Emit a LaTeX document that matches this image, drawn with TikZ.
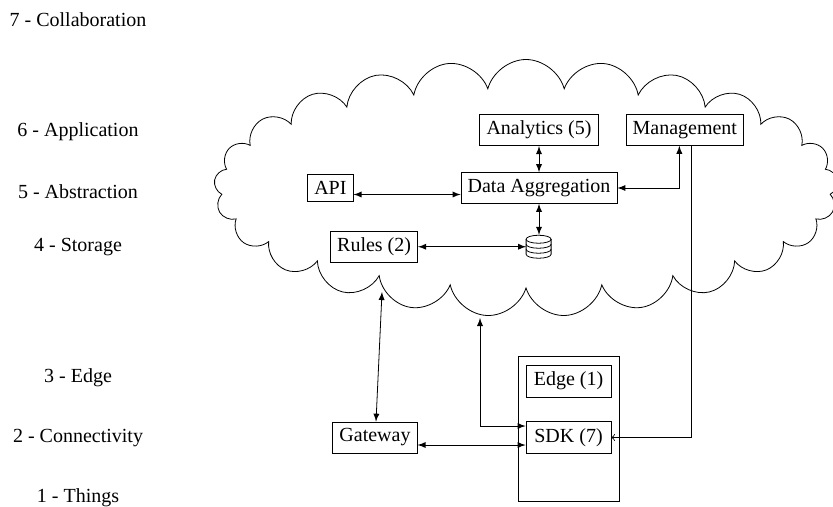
\documentclass[tikz,border=0pt]{standalone}
\usepackage{fontspec}
\setmainfont{Liberation Serif}
\usepackage{tikz}
\usetikzlibrary{positioning,shapes.symbols}

\tikzset{
  box/.style = {draw, rectangle},
  layer/.style = {inner sep = 0pt},
  link/.style = {latex-latex},
}

\begin{document}
\begin{tikzpicture}[x = 0.5pt, y = -0.5pt]
  \useasboundingbox (0,0) rectangle (833,507);
  \clip (0,0) rectangle (833,507);

  \node[cloud, draw, cloud puffs = 25, cloud puff arc = 150, aspect = 2.4, minimum width = 312pt, minimum height = 128.5pt] (net) at (526,188) {};

  % inside the cloud
  \node[box] (data) at (539,188) {Data Aggregation};
  \node[box, above=1.3em of data] (analytics) {Analytics (5)};
  \node[box, right=1.35em of analytics] (mgmt) {Management};
  \node[box, left=5.35em of data] (api) {API};
  \node[minimum width = 12.5pt, minimum height = 11.5pt, inner sep = 0pt, below=1.55em of data] (db) {};
  \node[box, left=5.4em of db] (rules) {Rules (2)};

  % database symbol
  \draw (db.west) ++(0,-7.5) arc (180:-180:12.5 and 4);
  \draw (db.west) ++(0,-7.5) -- ++(0,15) arc (180:0:12.5 and 4) -- ++(0,-15);
  \draw (db.west) ++(0,-2.5) arc (180:0:12.5 and 4);
  \draw (db.west) ++(0,2.5) arc (180:0:12.5 and 4);

  % below the cloud
  \node[box, minimum width = 42.5pt] (sdk) at (568.5,437.5) {SDK (7)};
  \node[box, minimum width = 42.5pt, above=1.2em of sdk] (edge) {Edge (1)};
  \node[box, left=5.4em of sdk] (gateway) {Gateway};
  \node[draw, minimum width = 50.5pt, minimum height = 72.5pt] (device) at (568.5,428.5) {};

  \coordinate (netgw) at (382,292);
  \coordinate (netsdk) at (480,318);

  \draw[link] (analytics) -- (data);
  \draw[link] ([yshift=-3.25pt]api.east) -- ([yshift=-3.25pt]data.west);
  \draw[link] (data.east) -| ([xshift=-2.75pt]mgmt.south);
  \draw[link] (data) -- (db);
  \draw[link] (rules) -- (db);
  \draw[link] (netgw) -- (gateway.north -| 376,0);
  \draw[link] (netsdk) |- ([yshift=5.75pt]sdk.west);
  \draw[link] ([yshift=-3.75pt]gateway.east) -- ([yshift=-3.75pt]sdk.west);
  \draw[->] ([xshift=3.25pt]mgmt.south) |- (sdk.east);

  % layers on the left
  \node[layer] (l7) at (78,20) {7 - Collaboration};
  \node[layer] (l6) at (78,132) {6 - Application};
  \node[layer] (l5) at (78,192) {5 - Abstraction};
  \node[layer] (l4) at (78,247) {4 - Storage};
  \node[layer] (l3) at (78,378) {3 - Edge};
  \node[layer] (l2) at (78,438) {2 - Connectivity};
  \node[layer] (l1) at (78,498) {1 - Things};
\end{tikzpicture}
\end{document}
